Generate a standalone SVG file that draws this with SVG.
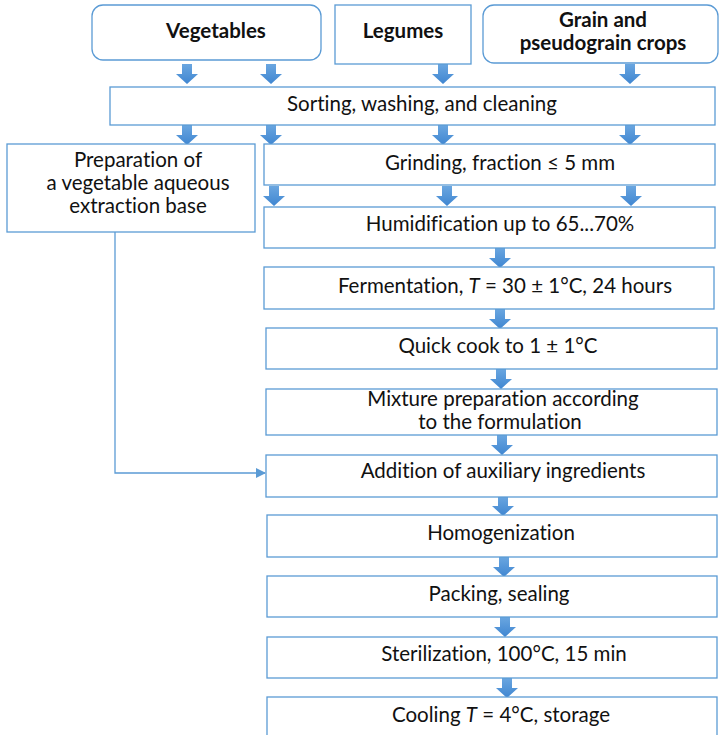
<svg xmlns="http://www.w3.org/2000/svg" width="719" height="735" viewBox="0 0 719 735">
<style>
.box{fill:#fff;stroke:#5b9bd5;stroke-width:1.3}
.t{font-family:Lato,"Noto Sans","Liberation Sans",sans-serif;font-size:20.5px;fill:#111;text-anchor:middle;font-variant-ligatures:none}
.b{font-weight:bold;font-size:20.5px}
.ar{fill:url(#g)}
.ln{fill:none;stroke:#5b9bd5;stroke-width:1.3}
</style>
<defs>
<linearGradient id="g" x1="0" y1="0" x2="0" y2="1">
<stop offset="0" stop-color="#6aa6e0"/>
<stop offset="1" stop-color="#3f86d1"/>
</linearGradient>
<path id="a" d="M-5,0 h10 v10 h6 l-11,10 l-11,-10 h6 z"/>
<marker id="m" markerWidth="10" markerHeight="10" refX="9" refY="5" orient="auto" markerUnits="userSpaceOnUse">
<path d="M0,0 L10,5 L0,10 z" fill="#5b9bd5"/>
</marker>
</defs>
<g id="connectors">
<use href="#a" class="ar" x="187" y="64"/>
<use href="#a" class="ar" x="271" y="64"/>
<use href="#a" class="ar" x="443" y="64"/>
<use href="#a" class="ar" x="630" y="64"/>
<use href="#a" class="ar" x="187" y="125"/>
<use href="#a" class="ar" x="271" y="125"/>
<use href="#a" class="ar" x="443" y="125"/>
<use href="#a" class="ar" x="630" y="125"/>
<use href="#a" class="ar" x="274" y="186"/>
<use href="#a" class="ar" x="447" y="186"/>
<use href="#a" class="ar" x="631" y="186"/>
<use href="#a" class="ar" x="500" y="248"/>
<use href="#a" class="ar" x="500" y="309"/>
<use href="#a" class="ar" x="501" y="369"/>
<use href="#a" class="ar" x="502" y="435"/>
<use href="#a" class="ar" x="503" y="496"/>
<use href="#a" class="ar" x="504" y="557"/>
<use href="#a" class="ar" x="505" y="617"/>
<use href="#a" class="ar" x="507" y="678"/>
<path class="ln" d="M115,232 V473 H265" marker-end="url(#m)"/>
</g>
<g id="vegetables"><rect class="box" x="92" y="5" width="229" height="55" rx="11"/><text class="t b" x="216" y="38">Vegetables</text></g>
<g id="legumes"><rect class="box" x="335" y="5" width="136" height="59"/><text class="t b" x="403" y="38">Legumes</text></g>
<g id="grain"><rect class="box" x="483" y="5" width="235" height="58" rx="11"/><text class="t b" x="603" y="27">Grain and</text><text class="t b" x="603" y="50">pseudograin crops</text></g>
<g id="sorting"><rect class="box" x="110" y="87" width="605" height="38"/><text class="t" x="422" y="111">Sorting, washing, and cleaning</text></g>
<g id="preparation"><rect class="box" x="7" y="144" width="248" height="88"/><text class="t" x="138" y="167">Preparation of</text><text class="t" x="138" y="190">a vegetable aqueous</text><text class="t" x="138" y="213">extraction base</text></g>
<g id="grinding"><rect class="box" x="264" y="144" width="451" height="41"/><text class="t" x="500" y="170">Grinding, fraction ≤ 5 mm</text></g>
<g id="humidification"><rect class="box" x="264" y="207" width="451" height="41"/><text class="t" x="500" y="231">Humidification up to 65...70%</text></g>
<g id="fermentation"><rect class="box" x="264" y="267" width="450" height="42"/><text class="t" x="505" y="293">Fermentation, <tspan font-style="italic">T</tspan> = 30 ± 1°C, 24 hours</text></g>
<g id="quickcook"><rect class="box" x="266" y="328" width="451" height="41"/><text class="t" x="498" y="353">Quick cook to 1 ± 1°C</text></g>
<g id="mixture"><rect class="box" x="266" y="389" width="451" height="46"/><text class="t" x="503" y="406">Mixture preparation according</text><text class="t" x="500" y="429">to the formulation</text></g>
<g id="addition"><rect class="box" x="266" y="455" width="451" height="42"/><text class="t" x="503" y="478">Addition of auxiliary ingredients</text></g>
<g id="homogenization"><rect class="box" x="267" y="515" width="450" height="42"/><text class="t" x="501" y="540">Homogenization</text></g>
<g id="packing"><rect class="box" x="267" y="576" width="450" height="41"/><text class="t" x="499" y="601">Packing, sealing</text></g>
<g id="sterilization"><rect class="box" x="267" y="637" width="450" height="41"/><text class="t" x="504" y="661">Sterilization, 100°C, 15 min</text></g>
<g id="cooling"><rect class="box" x="267" y="697" width="450" height="40"/><text class="t" x="501" y="722">Cooling <tspan font-style="italic">T</tspan> = 4°C, storage</text></g>
</svg>
